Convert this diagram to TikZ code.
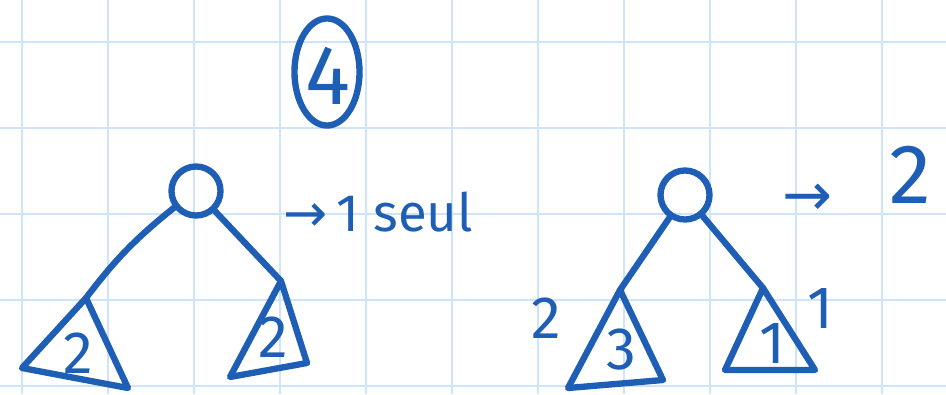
\documentclass[tikz,border=0pt]{standalone}
\usepackage{fontspec}
\setmainfont{Fira Sans}
\newfontfamily\arrowfont{DejaVu Sans}
\usetikzlibrary{shapes.geometric}
\definecolor{ink}{RGB}{30,94,180}
\definecolor{gridblue}{RGB}{206,228,252}
\tikzset{
  pen/.style={draw=ink, line width=1.8pt, line cap=round, line join=round},
  rootnode/.style={pen, circle, minimum size=0.49cm, inner sep=0pt},
  inlabel/.style={text=ink, inner sep=0pt, font=\fontsize{17}{17}\selectfont},
  biglabel/.style={text=ink, inner sep=0pt, font=\fontsize{24}{24}\selectfont},
  notelabel/.style={text=ink, inner sep=0pt, anchor=west, font=\fontsize{15}{15}\selectfont},
}
\begin{document}
\begin{tikzpicture}[x=0.01cm, y=-0.01cm]
    % Paper
    \useasboundingbox[fill=white] (0,0) rectangle (946,394);
    \foreach \gx in {22,108,...,882} \draw[gridblue, line width=0.45pt] (\gx,0) -- (\gx,394);
    \foreach \gy in {42,128,...,386} \draw[gridblue, line width=0.45pt] (0,\gy) -- (946,\gy);

    % Count
    \node[pen, ellipse, minimum width=0.65cm, minimum height=1.07cm, inner sep=0pt] (count) at (327,72) {};
    \node[biglabel] (countval) at (328,76) {4};

    % Left tree
    \node[rootnode] (rootA) at (196,191) {};
    \coordinate (topAl) at (86,298);
    \coordinate (leftAl) at (22,368);
    \coordinate (rightAl) at (128,388);
    \draw[pen] (topAl) -- (leftAl) -- (rightAl) -- cycle;
    \node[inlabel] (subAl) at (78,353) {2};
    \coordinate (topAr) at (281,281);
    \coordinate (leftAr) at (230,377);
    \coordinate (rightAr) at (307,363);
    \draw[pen] (topAr) -- (leftAr) -- (rightAr) -- cycle;
    \node[inlabel] (subAr) at (273,337) {2};
    \draw[pen] (rootA) to[bend right=7] (topAl);
    \draw[pen] (rootA) -- (topAr);
    \node[notelabel] (noteA) at (283,212) {{\arrowfont →}\,1 seul};

    % Right tree
    \node[rootnode] (rootB) at (685,195) {};
    \coordinate (topBl) at (620,290);
    \coordinate (leftBl) at (568,388);
    \coordinate (rightBl) at (663,380);
    \draw[pen] (topBl) -- (leftBl) -- (rightBl) -- cycle;
    \node[inlabel] (subBl) at (621,350) {3};
    \node[inlabel] (hBl) at (546,318) {2};
    \coordinate (topBr) at (763,288);
    \coordinate (leftBr) at (725,370);
    \coordinate (rightBr) at (815,370);
    \draw[pen] (topBr) -- (leftBr) -- (rightBr) -- cycle;
    \node[inlabel] (subBr) at (772,343) {1};
    \node[inlabel] (hBr) at (820,308) {1};
    \draw[pen] (rootB) -- (topBl);
    \draw[pen] (rootB) -- (topBr);
    \node[inlabel] (arrB) at (808,200) {\arrowfont →};
    \node[biglabel] (noteB) at (910,175) {2};
\end{tikzpicture}
\end{document}
